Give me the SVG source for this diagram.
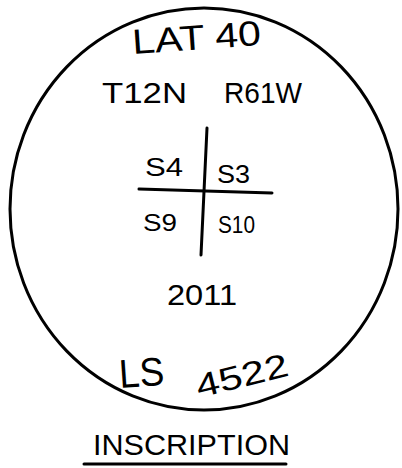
<svg xmlns="http://www.w3.org/2000/svg" width="402" height="468" viewBox="0 0 402 468">
<style>
text{font-family:"Liberation Sans",Arial,sans-serif;fill:#000}
.ln{stroke:#000;stroke-width:3;fill:none;stroke-linecap:round}
</style>
<rect width="402" height="468" fill="#fff"/>
<g id="seal">
<ellipse class="ln" cx="204" cy="209" rx="194" ry="201"/>
</g>
<g id="connectors">
<line class="ln" x1="207" y1="128" x2="201" y2="255"/>
<line class="ln" x1="139" y1="189" x2="272" y2="193"/>
<line class="ln" x1="84" y1="464" x2="286" y2="464"/>
</g>
<g id="lat">
<text x="133" y="54" font-size="35" textLength="129" lengthAdjust="spacingAndGlyphs" transform="rotate(-4 133 54)">LAT 40</text>
</g>
<g id="township">
<text x="102" y="103" font-size="30" textLength="85" lengthAdjust="spacingAndGlyphs">T12N</text>
<text x="224" y="103" font-size="30" textLength="78" lengthAdjust="spacingAndGlyphs">R61W</text>
</g>
<g id="sections">
<text x="145" y="176" font-size="25" textLength="38" lengthAdjust="spacingAndGlyphs">S4</text>
<text x="217" y="183" font-size="25" textLength="33" lengthAdjust="spacingAndGlyphs">S3</text>
<text x="143" y="231" font-size="24" textLength="34" lengthAdjust="spacingAndGlyphs">S9</text>
<text x="218" y="233" font-size="24" textLength="37" lengthAdjust="spacingAndGlyphs">S10</text>
</g>
<g id="year">
<text x="167" y="305" font-size="30" textLength="70" lengthAdjust="spacingAndGlyphs">2011</text>
</g>
<g id="ls">
<text x="120" y="388" font-size="40" textLength="45" lengthAdjust="spacingAndGlyphs" transform="rotate(-4 120 388)">LS</text>
<text x="199" y="398" font-size="33" textLength="94" lengthAdjust="spacingAndGlyphs" transform="rotate(-14 199 398)">4522</text>
</g>
<g id="caption">
<text x="93" y="455" font-size="30" textLength="197" lengthAdjust="spacingAndGlyphs">INSCRIPTION</text>
</g>
</svg>
